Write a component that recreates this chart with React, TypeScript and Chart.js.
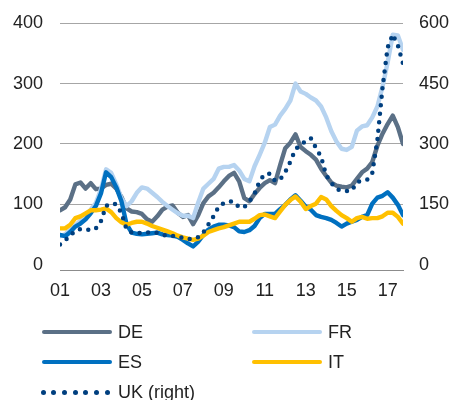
import React, { useEffect, useRef } from 'react';
import { Chart, registerables } from 'chart.js';

Chart.register(...registerables);

// Quarterly samples, Jan 2001 .. Oct 2017 (month offset = index * 3)
const YEAR_TICKS = ['01', '03', '05', '07', '09', '11', '13', '15', '17'];
const LEFT_TICKS = [0, 100, 200, 300, 400];
const RIGHT_TICKS = [0, 150, 300, 450, 600];

const DE = [
  90, 95, 108, 133, 136, 126, 135, 125, 126, 132,
  134, 126, 112, 93, 88, 87, 84, 75, 71, 80,
  91, 96, 98, 86, 79, 82, 67, 82, 102, 113,
  119, 128, 138, 147, 152, 138, 110, 105, 117, 127,
  135, 140, 135, 165, 193, 202, 216, 195, 188, 182,
  174, 159, 147, 136, 131, 129, 128, 131, 142, 153,
  159, 170, 197, 217, 233, 247, 228, 200,
];
const FR = [
  47, 50, 58, 65, 73, 81, 91, 102, 125, 158,
  152, 133, 110, 97, 105, 119, 128, 126, 119, 112,
  104, 97, 91, 85, 81, 81, 77, 103, 126, 134,
  142, 159, 162, 162, 165, 156, 142, 138, 163, 182,
  202, 228, 232, 247, 258, 272, 300, 287, 283, 277,
  272, 262, 244, 221, 204, 192, 190, 195, 222, 229,
  231, 244, 262, 295, 335, 381, 380, 356,
];
const ES = [
  49, 47, 54, 63, 68, 75, 85, 97, 118, 153,
  145, 128, 105, 67, 53, 51, 50, 51, 52, 53,
  50, 49, 48, 46, 41, 35, 30, 38, 49, 58,
  63, 66, 66, 65, 62, 55, 54, 57, 64, 77,
  84, 84, 84, 92, 99, 108, 115, 106, 96, 91,
  82, 79, 77, 74, 69, 63, 68, 71, 74, 79,
  82, 101, 111, 114, 120, 111, 99, 82,
];
const IT = [
  60, 60, 66, 77, 80, 85, 90, 90, 91, 93,
  87, 77, 70, 66, 69, 71, 71, 68, 64, 61,
  58, 55, 52, 48, 45, 43, 41, 43, 48, 54,
  57, 60, 62, 65, 68, 71, 71, 71, 76, 82,
  83, 80, 77, 88, 99, 107, 113, 104, 92, 97,
  101, 112, 108, 97, 89, 82, 77, 71, 77, 79,
  76, 77, 77, 80, 86, 86, 79, 68,
];
const UK = [
  50, 60, 72, 85, 88, 88, 85, 90, 108, 146,
  152, 150, 128, 88, 80, 78, 79, 80, 80, 79,
  74, 71, 71, 70, 66, 63, 64, 68, 80, 100,
  120, 144, 153, 157, 156, 142, 143, 157, 176, 208,
  225, 226, 208, 212, 230, 256, 287, 297, 307, 314,
  290, 268, 222, 203, 188, 184, 183, 184, 205, 209,
  211, 228, 310, 440, 540, 572, 545, 500,
];

const NAMES = ['DE', 'FR', 'ES', 'IT', 'UK (right)'];
const COLORS = ['#5b7086', '#b6d3f0', '#0070c0', '#ffc000', '#003f7f'];

const FONT = '"Liberation Sans", Arial, Helvetica, sans-serif';
const TEXT = '#222222';

const toPoints = (vals: number[]) => vals.map((v, i) => ({ x: i * 3, y: v }));

const fixAxis = (width: number) => (scale: any) => {
  scale.width = width;
  scale.paddingTop = 0;
  scale.paddingBottom = 0;
};

export default function App() {
  const ref = useRef<HTMLCanvasElement>(null);

  useEffect(() => {
    document.body.style.margin = '0';
    const series = [DE, FR, ES, IT, UK];
    const datasets: any[] = series.map((vals, i) => {
      const isUK = i === 4;
      return {
        label: NAMES[i],
        data: toPoints(vals),
        borderColor: COLORS[i],
        backgroundColor: COLORS[i],
        borderWidth: isUK ? 4.5 : 4.4,
        borderDash: isUK ? [0, 8.5] : [],
        borderCapStyle: 'round',
        borderJoinStyle: 'round',
        pointRadius: 0,
        tension: 0,
        fill: false,
        yAxisID: isUK ? 'y2' : 'y',
        order: 5 - i,
      };
    });

    const chart = new Chart(ref.current as HTMLCanvasElement, {
      type: 'line',
      data: { datasets },
      options: {
        animation: false,
        responsive: false,
        events: [],
        layout: { padding: { left: 13, right: 2, top: 23.3, bottom: 88.4 } },
        plugins: { legend: { display: false }, tooltip: { enabled: false } },
        scales: {
          x: {
            type: 'linear',
            min: 0,
            max: 201,
            afterBuildTicks: (scale: any) => {
              scale.ticks = YEAR_TICKS.map((_, i) => ({ value: i * 24 }));
            },
            ticks: {
              autoSkip: false,
              maxRotation: 0,
              padding: 10,
              color: TEXT,
              font: { family: FONT, size: 18 },
              callback: (v: any) => YEAR_TICKS[Math.round(Number(v) / 24)] ?? '',
            },
            grid: { display: false, drawTicks: false },
            border: { display: true, color: '#8c8c8c', width: 1 },
          },
          y: {
            position: 'left',
            min: -9,
            max: 400,
            afterBuildTicks: (scale: any) => {
              scale.ticks = LEFT_TICKS.map((v) => ({ value: v }));
            },
            afterFit: fixAxis(47),
            ticks: { padding: 17, color: TEXT, font: { family: FONT, size: 18 } },
            grid: {
              drawTicks: false,
              color: (ctx: any) => (ctx.tick && ctx.tick.value === 0 ? 'rgba(0,0,0,0)' : '#a6a6a6'),
              lineWidth: 1,
            },
            border: { display: false },
          },
          y2: {
            position: 'right',
            min: -13.5,
            max: 600,
            afterBuildTicks: (scale: any) => {
              scale.ticks = RIGHT_TICKS.map((v) => ({ value: v }));
            },
            afterFit: fixAxis(46),
            ticks: { padding: 16, color: TEXT, font: { family: FONT, size: 18 } },
            grid: { display: false, drawTicks: false },
            border: { display: false },
          },
        },
      } as any,
    });
    return () => chart.destroy();
  }, []);

  const legendItems = NAMES.map((name, i) => {
    const col = i % 2;
    const row = Math.floor(i / 2);
    const left = 42 + col * 210;
    const cy = 332 + row * 30;
    const isUK = i === 4;
    return (
      <div
        key={name}
        style={{ position: 'absolute', left, top: cy - 11, height: 22, display: 'flex', alignItems: 'center' }}
      >
        {isUK ? (
          <div style={{ position: 'relative', width: 70, height: 5 }}>
            {[0, 1, 2, 3, 4, 5, 6].map((d) => (
              <div
                key={d}
                style={{
                  position: 'absolute',
                  left: d * 10.7 - 1.5,
                  top: 0,
                  width: 5,
                  height: 5,
                  borderRadius: '50%',
                  background: COLORS[i],
                }}
              />
            ))}
          </div>
        ) : (
          <div style={{ width: 70, height: 4, borderRadius: 2, background: COLORS[i] }} />
        )}
        <span style={{ marginLeft: 6, font: `18px ${FONT}`, color: TEXT, whiteSpace: 'nowrap' }}>{name}</span>
      </div>
    );
  });

  return (
    <div style={{ position: 'relative', width: 451, height: 400 }}>
      <canvas ref={ref} width={451} height={400} style={{ display: 'block' }} />
      {legendItems}
    </div>
  );
}
